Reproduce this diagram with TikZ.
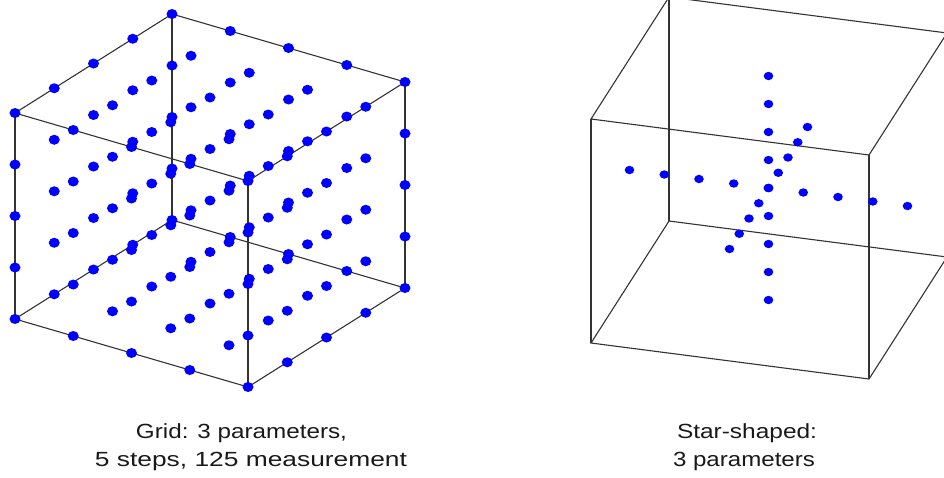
\documentclass[tikz,border=0pt]{standalone}
\usepackage{fontspec}
\usepackage{graphicx}
\usetikzlibrary{calc}
\newfontfamily\capfont{Liberation Sans}
\newcommand\fitw[2]{\resizebox{#1}{\height}{#2}}
\begin{document}
\begin{tikzpicture}[x=1pt,y=-1pt,
  cubeline/.style={draw=black!80,line width=1.1pt},
  dotfill/.style={fill=blue},
  captext/.style={font=\capfont\fontsize{20.5}{24}\selectfont,anchor=base,inner sep=0pt,text=black!90}]
\clip (0,0) rectangle (944,477);
\useasboundingbox (0,0) rectangle (944,477);
% ---------- left cube (grid) ----------
% corners: A + a*u + b*v + c*w, A=(15,113), u=(233,68), v=(157,-99), w=(0,206)
\coordinate (g000) at (15,113);
\coordinate (g100) at (248,181);
\coordinate (g010) at (172,14);
\coordinate (g110) at (405,82);
\coordinate (g001) at (15,319);
\coordinate (g101) at (248,387);
\coordinate (g011) at (172,220);
\coordinate (g111) at (405,288);
\draw[cubeline] (g000) -- (g100) -- (g110) -- (g010) -- cycle;
\draw[cubeline] (g001) -- (g101) -- (g111) -- (g011) -- cycle;
\draw[cubeline] (g000) -- (g001);
\draw[cubeline] (g100) -- (g101);
\draw[cubeline] (g010) -- (g011);
\draw[cubeline] (g110) -- (g111);
\foreach \a in {0,0.25,0.5,0.75,1}{
  \foreach \b in {0,0.25,0.5,0.75,1}{
    \foreach \c in {0,0.25,0.5,0.75,1}{
      \pgfmathsetmacro{\px}{15+233*\a+157*\b}
      \pgfmathsetmacro{\py}{113+68*\a-99*\b+206*\c}
      \fill[dotfill] (\px,\py) ellipse [x radius=5.5pt, y radius=5pt];
    }}}
% ---------- right cube (star) ----------
% FTL=(591,119), r=(278,36), d=(78,-122), h=(0,224)
\coordinate (s000) at (591,119);
\coordinate (s100) at (869,155);
\coordinate (s010) at (669,-3);
\coordinate (s110) at (947,33);
\coordinate (s001) at (591,343);
\coordinate (s101) at (869,379);
\coordinate (s011) at (669,221);
\coordinate (s111) at (947,257);
\draw[cubeline] (s000) -- (s100) -- (s110) -- (s010) -- cycle;
\draw[cubeline] (s001) -- (s101) -- (s111) -- (s011) -- cycle;
\draw[cubeline] (s000) -- (s001);
\draw[cubeline] (s100) -- (s101);
\draw[cubeline] (s010) -- (s011);
\draw[cubeline] (s110) -- (s111);
\coordinate (sc) at (768.5,188);
\foreach \k in {-4,...,4}{
  \fill[dotfill] ($(sc)+(0,28*\k)$) ellipse [x radius=4.8pt, y radius=4.2pt];
  \fill[dotfill] ($(sc)+(34.75*\k,4.5*\k)$) ellipse [x radius=4.8pt, y radius=4.2pt];
  \fill[dotfill] ($(sc)+(9.75*\k,-15.25*\k)$) ellipse [x radius=4.8pt, y radius=4.2pt];
}
% ---------- captions ----------
\node[captext] (gridcap1) at (241.5,438) {\fitw{211pt}{Grid: 3 parameters,}};
\node[captext] (gridcap2) at (251,466) {\fitw{312pt}{5 steps, 125 measurement}};
\node[captext] (starcap1) at (747,438) {\fitw{140pt}{Star-shaped:}};
\node[captext] (starcap2) at (744,466) {\fitw{142pt}{3 parameters}};
\end{tikzpicture}
\end{document}
